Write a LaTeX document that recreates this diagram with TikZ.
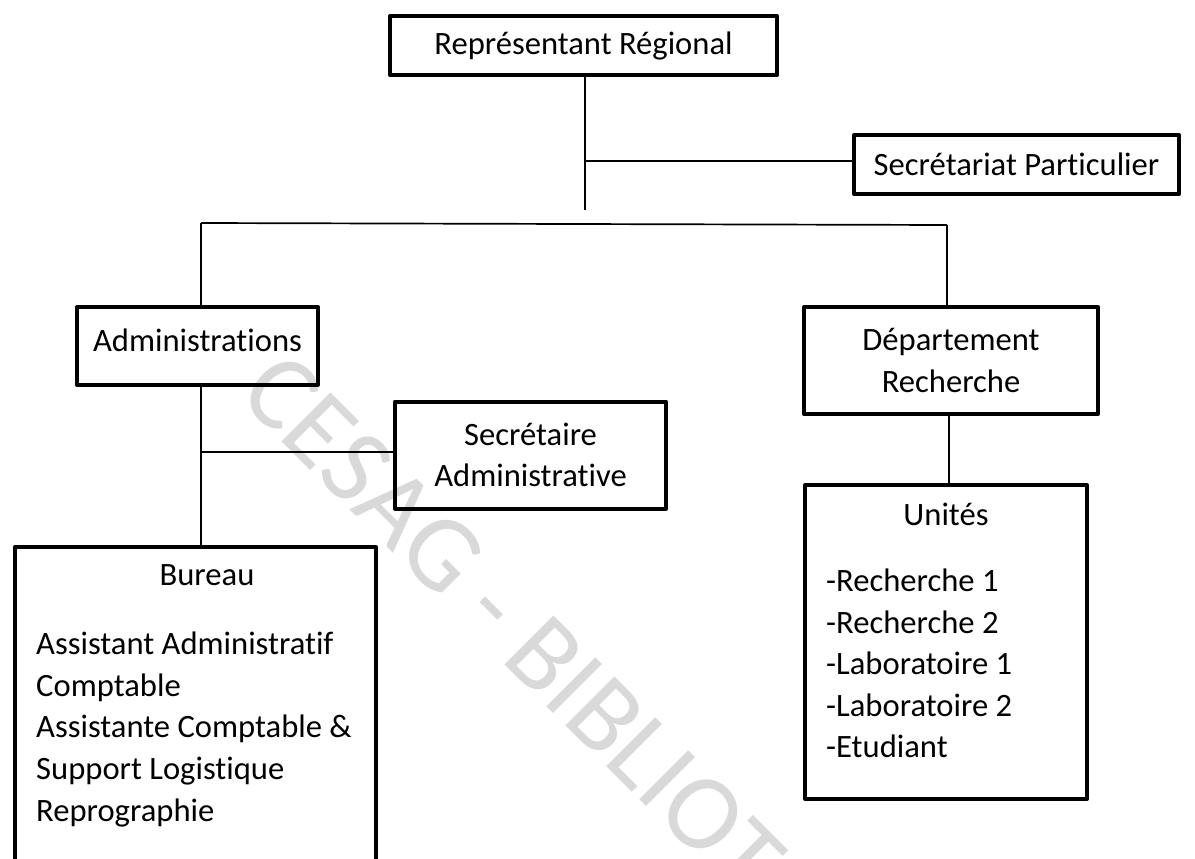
\documentclass[tikz,border=0pt]{standalone}
\usepackage{fontspec}
\setmainfont{Carlito}[Ligatures=NoCommon]
\begin{document}
\begin{tikzpicture}[x=1pt,y=-1pt,
  box/.style={draw=black, line width=4pt, line join=round, inner sep=0pt, align=center, font=\fontsize{32.6}{41.5}\selectfont},
  lbl/.style={inner sep=0pt, font=\fontsize{32.6}{41.5}\selectfont},
  conn/.style={draw=black, line width=1.7pt},
  wm/.style={text=black!15, inner sep=0pt, outer sep=0pt, rotate=-45, anchor=base west, font=\fontsize{108}{108}\selectfont}]
\clip (0,0) rectangle (1195,859);
\useasboundingbox (0,0) rectangle (1195,859);
% watermark, letter by letter
\node[wm] (w1) at (236,396) {C};
\node[wm] (w2) at (w1.base east) {E};
\node[wm] (w3) at (w2.base east) {S};
\node[wm] (w4) at (w3.base east) {A};
\node[wm] (w5) at (w4.base east) {G};
\node[wm] (w6) at (w5.base east) {\kern0.226em-\kern0.226em};
\node[wm] (w7) at (w6.base east) {B};
\node[wm] (w8) at (w7.base east) {I};
\node[wm] (w9) at (w8.base east) {B};
\node[wm] (w10) at (w9.base east) {L};
\node[wm] (w11) at (w10.base east) {I};
\node[wm] (w12) at (w11.base east) {O};
\node[wm] (w13) at (w12.base east) {T};
% boxes
\node[box, minimum width=387, minimum height=59] (rr) at (583.5,45.5) {Représentant Régional};
\node[box, minimum width=325, minimum height=59] (sp) at (1016.5,164.5) {Secrétariat Particulier};
\node[box, minimum width=241, minimum height=78] (adm) at (197.5,346) {};
\node[lbl] (admtxt) at (197.5,340) {Administrations};
\node[box, minimum width=271, minimum height=107] (sa) at (530.5,455) {Secrétaire\\Administrative};
\node[box, minimum width=294, minimum height=107] (dr) at (951,360.5) {Département\\Recherche};
\node[box, minimum width=282, minimum height=314] (un) at (946,642) {};
\node[lbl, anchor=base] (untxt) at (946,525) {Unités};
\node[lbl, anchor=base west] (u1) at (826,591) {-Recherche 1};
\node[lbl, anchor=base west] (u2) at (826,633) {-Recherche 2};
\node[lbl, anchor=base west] (u3) at (826,674) {-Laboratoire 1};
\node[lbl, anchor=base west] (u4) at (826,716) {-Laboratoire 2};
\node[lbl, anchor=base west] (u5) at (826,757) {-Etudiant};
\node[box, minimum width=361, minimum height=353] (bu) at (195.5,723.5) {};
\node[lbl, anchor=base] (butxt) at (207,585) {Bureau};
\node[lbl, anchor=base west] (b1) at (36,654) {Assistant Administratif};
\node[lbl, anchor=base west] (b2) at (36,696) {Comptable};
\node[lbl, anchor=base west] (b3) at (36,737) {Assistante Comptable \&};
\node[lbl, anchor=base west] (b4) at (36,779) {Support Logistique};
\node[lbl, anchor=base west] (b5) at (36,821) {Reprographie};
% connectors
\coordinate (t1) at (585,210);
\coordinate (t2) at (585,161);
\draw[conn] (rr.south -| t1) -- (t1);
\draw[conn] (t2) -- (t2 -| sp.west);
\coordinate (busL) at (201,223);
\coordinate (busR) at (947,225);
\draw[conn] (busL) -- (busR);
\draw[conn] (busL) -- (busL |- adm.north);
\draw[conn] (busR) -- (busR |- dr.north);
\coordinate (a1) at (201,452);
\draw[conn] (adm.south -| a1) -- (bu.north -| a1);
\draw[conn] (a1) -- (a1 -| sa.west);
\coordinate (d1) at (949,420);
\draw[conn] (d1 |- dr.south) -- (d1 |- un.north);
\end{tikzpicture}
\end{document}
